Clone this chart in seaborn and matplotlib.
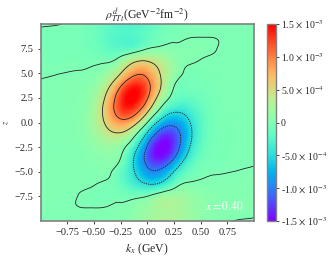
import numpy as np
import matplotlib
matplotlib.use("Agg")
import matplotlib.pyplot as plt
import matplotlib.tri as mtri
import seaborn as sns

sns.set_style("ticks")
plt.rcParams['font.family'] = ['Liberation Serif', 'DejaVu Serif']
plt.rcParams['mathtext.fontset'] = 'stix'
plt.rcParams['contour.negative_linestyle'] = (0, (1.6, 1.1))

#%% Data (units of 1e-4 GeV^-2 fm^-2)

kx_vals = [-1.0, -0.875, -0.75, -0.625, -0.5, -0.375, -0.25, -0.125, 0.0,
           0.125, 0.25, 0.375, 0.5, 0.625, 0.75, 0.875, 1.0]
z_vals = [10.0, 8.75, 7.5, 6.25, 5.0, 3.75, 2.5, 1.25, 0.0,
          -1.25, -2.5, -3.75, -5.0, -6.25, -7.5, -8.75, -10.0]

rho_z_p10_00 = [0.3, 0.12, -0.08, -0.35, -0.9, -1.8, -2.65, -2.8, -2.1, -1.1, -0.45, -0.2, -0.12, -0.1, -0.1, -0.1, -0.08]
rho_z_p08_75 = [-0.5, -0.45, -0.42, -0.5, -1.0, -1.9, -2.6, -2.5, -1.6, -0.7, -0.22, -0.07, -0.03, -0.02, -0.06, -0.1, -0.1]
rho_z_p07_50 = [-0.35, -0.33, -0.3, -0.4, -0.85, -1.6, -2.0, -1.6, -0.05, 0.45, 0.35, 0.35, 0.3, 0.06, -0.08, -0.12, -0.12]
rho_z_p06_25 = [-0.25, -0.25, -0.25, -0.25, -0.25, -0.25, 1.3, 4.3, 4.9, 3.3, 1.2, 0.25, -0.05, -0.15, -0.12, -0.12, -0.12]
rho_z_p05_00 = [-0.12, -0.05, 0.03, 0.1, 0.35, 1.5, 4.9, 9.0, 8.8, 4.8, 1.45, -0.35, -0.3, -0.2, -0.15, -0.12, -0.12]
rho_z_p03_75 = [0.1, 0.16, 0.22, 0.35, 1.0, 3.9, 9.6, 13.7, 11.3, 5.2, 0.1, -0.7, -0.5, -0.25, -0.15, -0.12, -0.1]
rho_z_p02_50 = [0.12, 0.18, 0.25, 0.45, 1.8, 6.1, 12.7, 15.3, 10.4, 3.0, -0.9, -1.6, -0.95, -0.35, -0.15, -0.1, -0.08]
rho_z_p01_25 = [0.12, 0.18, 0.28, 0.55, 2.3, 7.0, 12.3, 12.3, 6.1, -0.85, -4.2, -3.65, -1.7, -0.5, -0.2, -0.12, -0.1]
rho_z_000_00 = [0.12, 0.16, 0.22, 0.55, 2.28, 5.9, 8.7, 6.6, 0.0, -6.6, -8.7, -5.9, -2.28, -0.55, -0.22, -0.16, -0.12]
rho_z_m01_25 = [0.1, 0.12, 0.2, 0.5, 1.7, 3.65, 4.2, 0.85, -6.1, -12.3, -12.3, -7.0, -2.3, -0.55, -0.28, -0.18, -0.12]
rho_z_m02_50 = [0.08, 0.1, 0.15, 0.35, 0.95, 1.6, 0.9, -3.0, -10.4, -15.3, -12.7, -6.1, -1.8, -0.45, -0.25, -0.18, -0.12]
rho_z_m03_75 = [0.1, 0.12, 0.15, 0.25, 0.5, 0.7, -0.1, -5.2, -11.3, -13.7, -9.6, -3.9, -1.0, -0.35, -0.22, -0.16, -0.1]
rho_z_m05_00 = [0.12, 0.12, 0.15, 0.2, 0.3, 0.35, -1.45, -4.8, -8.8, -9.0, -4.9, -1.5, -0.35, -0.1, -0.03, 0.05, 0.12]
rho_z_m06_25 = [0.12, 0.12, 0.12, 0.15, 0.05, -0.25, -1.2, -3.3, -4.9, -4.3, -1.3, 0.25, 0.25, 0.25, 0.25, 0.25, 0.25]
rho_z_m07_50 = [0.12, 0.12, 0.08, -0.06, -0.3, -0.35, -0.35, -0.45, 0.05, 1.6, 2.0, 1.6, 0.85, 0.4, 0.3, 0.33, 0.35]
rho_z_m08_75 = [0.1, 0.1, 0.06, 0.02, 0.03, 0.07, 0.22, 0.7, 1.6, 2.5, 2.6, 1.9, 1.0, 0.5, 0.42, 0.45, 0.5]
rho_z_m10_00 = [0.08, 0.1, 0.1, 0.1, 0.12, 0.2, 0.45, 1.1, 2.1, 2.8, 2.65, 1.8, 0.9, 0.35, 0.08, -0.12, -0.3]

rho_rows = [rho_z_p10_00, rho_z_p08_75, rho_z_p07_50, rho_z_p06_25, rho_z_p05_00,
            rho_z_p03_75, rho_z_p02_50, rho_z_p01_25, rho_z_000_00, rho_z_m01_25,
            rho_z_m02_50, rho_z_m03_75, rho_z_m05_00, rho_z_m06_25, rho_z_m07_50,
            rho_z_m08_75, rho_z_m10_00]

cbar_ticks = [1.5e-3, 1.0e-3, 5.0e-4, 0.0, -5.0e-4, -1.0e-3, -1.5e-3]
cbar_labels = [r"1.5 $\times$ 10$^{-3}$", r"1.0 $\times$ 10$^{-3}$", r"5.0 $\times$ 10$^{-4}$", "0",
               r"-5.0 $\times$ 10$^{-4}$", r"-1.0 $\times$ 10$^{-3}$", r"-1.5 $\times$ 10$^{-3}$"]
contour_levels = [-1.0e-3, -5.0e-4, 0.0, 5.0e-4, 1.0e-3]

#%% Grid -> triangulation (z scaled so the cells are square for the interpolator)

rho = np.array(rho_rows) * 1e-4
K, Z = np.meshgrid(kx_vals, z_vals)
tri = mtri.Triangulation(K.ravel(), Z.ravel() / 10.0)
interp = mtri.CubicTriInterpolator(tri, rho.ravel(), kind="min_E")
refiner = mtri.UniformTriRefiner(tri)
tri_fine, rho_fine = refiner.refine_field(rho.ravel(), triinterpolator=interp, subdiv=3)
tri_plot = mtri.Triangulation(tri_fine.x, tri_fine.y * 10.0, tri_fine.triangles)

#%% Plot

cmap = sns.color_palette("rainbow", as_cmap=True)

fig = plt.figure(figsize=(3.35, 2.58), dpi=100)
ax = fig.add_axes([0.121, 0.143, 0.637, 0.764])
cax = fig.add_axes([0.797, 0.143, 0.027, 0.764])

pc = ax.tripcolor(tri_plot, rho_fine, shading="gouraud", cmap=cmap,
                  vmin=-1.5e-3, vmax=1.5e-3, rasterized=True)
ax.tricontour(tri_plot, rho_fine, levels=contour_levels, colors="#222222", linewidths=0.6)

ax.set_xlim(-1, 1)
ax.set_ylim(-10, 10)
ax.set_xticks([-0.75, -0.5, -0.25, 0, 0.25, 0.5, 0.75])
ax.set_yticks([-7.5, -5, -2.5, 0, 2.5, 5, 7.5])
ax.tick_params(labelsize=7.5, length=2.5, width=0.6, pad=2.5)

ax.set_xlabel(r"$k_x$ (GeV)", fontsize=8.5, labelpad=3)
ax.set_ylabel(r"$z$", fontsize=6, labelpad=3)
ax.set_title(r"$\rho^{d}_{TTt}$(GeV$^{-2}$fm$^{-2}$)", fontsize=8.5, pad=3)
ax.text(0.955, 0.075, r"$x = 0.40$", color="white", fontsize=8.5,
        ha="right", va="center", transform=ax.transAxes)

for s in ax.spines.values():
    s.set_color("#808080")
    s.set_linewidth(1.2)

cb = fig.colorbar(pc, cax=cax, ticks=cbar_ticks)
cb.ax.set_yticklabels(cbar_labels)
cb.ax.tick_params(labelsize=7, length=2, width=0.6, pad=1.5)
cb.outline.set_edgecolor("#808080")
cb.outline.set_linewidth(1.0)

fig.savefig("out.png", dpi=100)
